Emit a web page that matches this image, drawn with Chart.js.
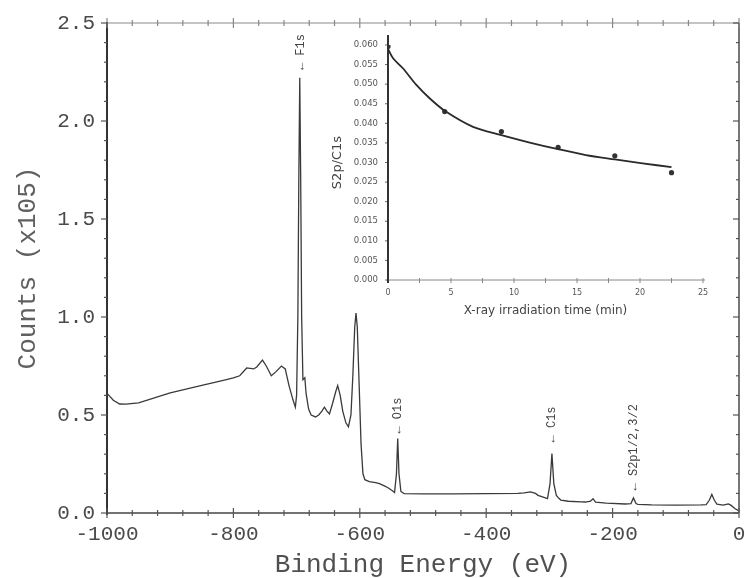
<!DOCTYPE html>
<html><head><meta charset="utf-8">
<script src="https://cdn.jsdelivr.net/npm/chart.js@4.4.0/dist/chart.umd.min.js"></script>
<style>
html,body{margin:0;padding:0;background:#fff;}
#wrap{position:relative;width:745px;height:578px;overflow:hidden;}
canvas{position:absolute;left:0;top:0;}
#inset{pointer-events:none;}
</style></head><body>
<div id="wrap"><canvas id="main" width="745" height="578"></canvas><canvas id="inset" width="745" height="578"></canvas></div>
<script>
// ---- main XPS survey spectrum ----
const bindingEnergy = [-1000,-997,-990,-980,-970,-950,-900,-850,-816,-800,-790,-779,-768,-763,-754,-748,-740,-733,-724,-718,-712,-706,-702,-700,-698,-696.5,-695,-693.5,-692,-690,-687,-685,-681,-677,-670,-665,-660,-656,-652,-648,-643,-638,-635,-631,-627,-622,-618,-614,-611,-608,-606,-604,-601,-598,-595,-592,-585,-575,-569,-562,-556,-549,-545,-542,-540,-538,-535,-530,-500,-450,-400,-350,-340,-330,-322,-318,-311,-303,-299,-296,-293,-289,-285,-282,-270,-250,-243,-235,-231,-227,-210,-180,-171,-167,-163,-160,-138,-100,-60,-52,-47,-43,-39,-35,-25,-20,-17,-13,-6,0];
const counts = [0.61,0.60,0.575,0.556,0.555,0.562,0.613,0.651,0.677,0.69,0.70,0.74,0.735,0.745,0.78,0.75,0.70,0.72,0.75,0.735,0.65,0.58,0.54,0.6,1.0,1.7,2.22,1.7,1.0,0.68,0.69,0.61,0.53,0.50,0.49,0.50,0.52,0.54,0.52,0.505,0.56,0.62,0.65,0.60,0.52,0.46,0.44,0.50,0.70,0.95,1.02,0.95,0.65,0.35,0.20,0.17,0.16,0.155,0.15,0.14,0.13,0.115,0.105,0.2,0.38,0.2,0.11,0.099,0.098,0.098,0.099,0.10,0.103,0.108,0.10,0.09,0.082,0.073,0.15,0.303,0.15,0.09,0.075,0.066,0.06,0.057,0.056,0.06,0.073,0.055,0.05,0.046,0.048,0.077,0.048,0.044,0.041,0.04,0.041,0.043,0.065,0.095,0.065,0.045,0.04,0.044,0.046,0.04,0.022,0.01];
const energyTickLabels = [-1000,-800,-600,-400,-200,0];
const countTickLabels = [0.0,0.5,1.0,1.5,2.0,2.5];
const peakLabels = ['\u2190 F1s','\u2190 O1s','\u2190 C1s','\u2190 S2p1/2,3/2'];
const peakLabelEnergy = [-694,-540,-296,-167];
const peakLabelStart = [2.26,0.405,0.36,0.115];

// ---- inset: S2p/C1s ratio vs irradiation time ----
const irradiationTime = [0,4.5,9,13.5,18,22.5];
const ratio = [0.0596,0.0430,0.0379,0.0339,0.0317,0.0274];
const fitTime = [0,0.4,1.2,2.25,3.3,4.5,6.75,9,11.25,13.5,15.7,18,20.2,22.5];
const fitRatio = [0.0590,0.0566,0.0540,0.0498,0.0464,0.0432,0.0391,0.0370,0.0351,0.0334,0.0319,0.0308,0.0298,0.0288];
const timeTickLabels = [0,5,10,15,20,25];

const MONO = "'Liberation Mono', 'DejaVu Sans Mono', monospace";
const SANS = "'DejaVu Sans', sans-serif";

function seg(ctx,x1,y1,x2,y2){ctx.beginPath();ctx.moveTo(x1,y1);ctx.lineTo(x2,y2);ctx.stroke();}

const mainFrame = {
  id:'mainFrame',
  beforeDraw(chart){const c=chart.ctx;c.save();c.fillStyle='#fff';c.fillRect(0,0,chart.width,chart.height);c.restore();},
  afterDatasetsDraw(chart){
    const {ctx, chartArea:a, scales:{x,y}} = chart;
    ctx.save();
    // frame
    ctx.strokeStyle='#8a8a8a'; ctx.lineWidth=1.2; seg(ctx,a.left,a.top,a.right,a.top);
    ctx.strokeStyle='#555'; ctx.lineWidth=1.6; seg(ctx,a.right,a.top,a.right,a.bottom);
    ctx.strokeStyle='#333'; ctx.lineWidth=2; seg(ctx,a.left,a.top-1,a.left,a.bottom+2);
    ctx.strokeStyle='#444'; ctx.lineWidth=1.6; seg(ctx,a.left,a.bottom,a.right,a.bottom);
    // ticks
    ctx.lineWidth=1.2;
    x.ticks.forEach(t=>{
      const p=x.getPixelForValue(t.value);
      const major=energyTickLabels.some(v=>Math.abs(v-t.value)<1e-6);
      const L=major?5:3;
      ctx.strokeStyle='#555'; seg(ctx,p,a.bottom-L,p,a.bottom+L);
      ctx.strokeStyle='#888'; seg(ctx,p,a.top-L,p,a.top+L);
    });
    y.ticks.forEach(t=>{
      const p=y.getPixelForValue(t.value);
      const major=countTickLabels.some(v=>Math.abs(v-t.value)<1e-6);
      const L=major?6:3;
      ctx.strokeStyle='#555'; seg(ctx,a.left-L,p,a.left,p);
      seg(ctx,a.right-L,p,a.right,p);
    });
    // peak labels
    ctx.fillStyle='#444';
    ctx.font="12px "+MONO;
    ctx.textAlign='left'; ctx.textBaseline='middle';
    peakLabels.forEach((txt,i)=>{
      const px=x.getPixelForValue(peakLabelEnergy[i]);
      const py=y.getPixelForValue(peakLabelStart[i]);
      ctx.save(); ctx.translate(px,py); ctx.rotate(-Math.PI/2); ctx.fillText(txt,0,0); ctx.restore();
    });
    ctx.restore();
  }
};

new Chart(document.getElementById('main'),{
  type:'line',
  data:{datasets:[{
    data:bindingEnergy.map((e,i)=>({x:e,y:counts[i]})),
    borderColor:'#3a3a3a', borderWidth:1.3, pointRadius:0, tension:0, fill:false
  }]},
  options:{
    responsive:false, animation:false, devicePixelRatio:1,
    layout:{padding:{top:23,right:6,left:0,bottom:0}},
    plugins:{legend:{display:false},tooltip:{enabled:false}},
    scales:{
      x:{type:'linear',min:-1000,max:0,
        grid:{display:false,drawTicks:false},border:{display:false},
        ticks:{stepSize:40,autoSkip:false,maxRotation:0,padding:9,color:'#4a4a4a',
          font:{family:MONO,size:21},
          callback:v=>energyTickLabels.some(t=>Math.abs(t-v)<1e-6)?String(Math.round(v)):''},
        title:{display:true,text:'Binding Energy (eV)',color:'#505050',
          font:{family:MONO,size:26,lineHeight:1},padding:{top:0,bottom:0}},
        afterFit(s){s.height=65;s.paddingLeft=0;s.paddingRight=0;}
      },
      y:{type:'linear',min:0,max:2.5,
        grid:{display:false,drawTicks:false},border:{display:false},
        ticks:{stepSize:0.1,autoSkip:false,padding:12,color:'#4a4a4a',
          font:{family:MONO,size:21},
          callback:v=>countTickLabels.some(t=>Math.abs(t-v)<1e-6)?v.toFixed(1):''},
        title:{display:true,text:'Counts (x105)',color:'#606060',
          font:{family:MONO,size:26,lineHeight:1},padding:{top:15,bottom:0}},
        afterFit(s){s.width=107;s.paddingTop=0;s.paddingBottom=0;}
      }
    }
  },
  plugins:[mainFrame]
});

const insetFrame = {
  id:'insetFrame',
  beforeDatasetsDraw(chart){
    const {ctx, chartArea:a, scales:{x,y}} = chart;
    ctx.save();
    ctx.strokeStyle='#888'; ctx.lineWidth=1; seg(ctx,a.left,a.bottom,a.right+2,a.bottom);
    x.ticks.forEach(t=>{const p=x.getPixelForValue(t.value); seg(ctx,p,a.bottom-2,p,a.bottom+3);});
    ctx.strokeStyle='#666';
    y.ticks.forEach(t=>{const p=y.getPixelForValue(t.value); seg(ctx,a.left-3,p,a.left,p);});
    ctx.strokeStyle='#333'; ctx.lineWidth=2; seg(ctx,a.left,a.top-10,a.left,a.bottom+3);
    ctx.restore();
  }
};

new Chart(document.getElementById('inset'),{
  type:'line',
  data:{datasets:[
    {data:fitTime.map((t,i)=>({x:t,y:fitRatio[i]})),borderColor:'#2a2a2a',borderWidth:1.8,pointRadius:0,tension:0.3,fill:false},
    {data:irradiationTime.map((t,i)=>({x:t,y:ratio[i]})),showLine:false,pointRadius:2.6,pointBackgroundColor:'#333',pointBorderColor:'#333',borderWidth:0}
  ]},
  options:{
    responsive:false, animation:false, devicePixelRatio:1,
    layout:{padding:{top:45,right:42,left:328,bottom:253}},
    plugins:{legend:{display:false},tooltip:{enabled:false}},
    scales:{
      x:{type:'linear',min:0,max:25,
        grid:{display:false,drawTicks:false},border:{display:false},
        ticks:{stepSize:2.5,autoSkip:false,maxRotation:0,padding:8,color:'#555',
          font:{family:SANS,size:8},
          callback:v=>timeTickLabels.some(t=>Math.abs(t-v)<1e-6)?String(Math.round(v)):''},
        title:{display:true,text:'X-ray irradiation time (min)',color:'#444',
          font:{family:SANS,size:12},padding:{top:0,bottom:7}},
        afterFit(s){s.height=45;s.paddingLeft=0;s.paddingRight=0;}
      },
      y:{type:'linear',min:0,max:0.06,
        grid:{display:false,drawTicks:false},border:{display:false},
        ticks:{stepSize:0.005,autoSkip:false,padding:10,color:'#555',
          font:{family:SANS,size:8.5},
          callback:v=>v.toFixed(3)},
        title:{display:true,text:'S2p/C1s',color:'#444',
          font:{family:SANS,size:13},padding:{top:2,bottom:0}},
        afterFit(s){s.width=60;s.paddingTop=0;s.paddingBottom=0;}
      }
    }
  },
  plugins:[insetFrame]
});
</script>
</body></html>
